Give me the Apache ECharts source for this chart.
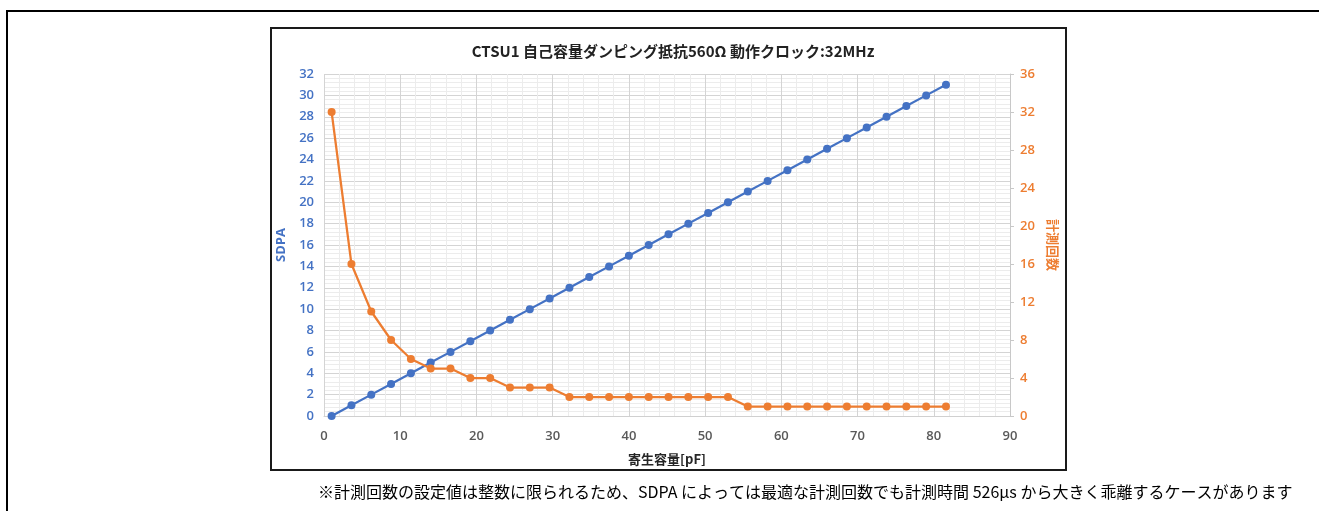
<!DOCTYPE html>
<html><head><meta charset="utf-8">
<script src="https://cdn.jsdelivr.net/npm/echarts@6/dist/echarts.min.js"></script>
<style>html,body{margin:0;padding:0;background:#fff;}#c{width:1319px;height:511px;}</style>
</head><body><div id="c"></div>
<script>
const titleText = 'CTSU1 自己容量ダンピング抵抗560Ω 動作クロック:32MHz';
const xTitle = '寄生容量[pF]';
const leftTitle = 'SDPA';
const rightTitle = '計測回数';
const noteText = '※計測回数の設定値は整数に限られるため、SDPA によっては最適な計測回数でも計測時間 526µs から大きく乖離するケースがあります';
const capacitance = [1.0, 3.6, 6.2, 8.8, 11.4, 14.0, 16.6, 19.2, 21.8, 24.4, 27.0, 29.6, 32.2, 34.8, 37.4, 40.0, 42.6, 45.2, 47.8, 50.4, 53.0, 55.6, 58.2, 60.8, 63.4, 66.0, 68.6, 71.2, 73.8, 76.4, 79.0, 81.6];
const sdpa = [0, 1, 2, 3, 4, 5, 6, 7, 8, 9, 10, 11, 12, 13, 14, 15, 16, 17, 18, 19, 20, 21, 22, 23, 24, 25, 26, 27, 28, 29, 30, 31];
const counts = [32, 16, 11, 8, 6, 5, 5, 4, 4, 3, 3, 3, 2, 2, 2, 2, 2, 2, 2, 2, 2, 1, 1, 1, 1, 1, 1, 1, 1, 1, 1, 1];

const BLUE = '#4472C4', ORANGE = '#ED7D31';
const FONT = '"Open Sans", "Noto Sans CJK JP", sans-serif';
const JP = '"Noto Sans CJK JP", sans-serif';

const chart = echarts.init(document.getElementById('c'), null, {renderer: 'canvas'});
chart.setOption({
  animation: false,
  backgroundColor: '#fff',
  title: {
    text: titleText, left: 668, top: 39, textAlign: 'center',
    textStyle: {fontFamily: JP, fontSize: 15, fontWeight: 'bold', color: '#222'}
  },
  grid: {left: 324, right: 309, top: 74, bottom: 95, containLabel: false},
  xAxis: {
    type: 'value', min: 0, max: 90, interval: 10,
    name: xTitle, nameLocation: 'middle', nameGap: 37,
    nameTextStyle: {fontFamily: JP, fontSize: 13, fontWeight: 'bold', color: '#262626'},
    axisLine: {show: true, lineStyle: {color: '#d0d0d0'}},
    axisTick: {show: false},
    axisLabel: {fontFamily: FONT, fontSize: 13, fontWeight: 600, color: '#595959', margin: 14},
    splitLine: {show: true, lineStyle: {color: '#d4d4d4', width: 1}},
    minorTick: {show: false, splitNumber: 5},
    minorSplitLine: {show: true, lineStyle: {color: '#ececec', width: 1}}
  },
  yAxis: [{
    type: 'value', min: 0, max: 32, interval: 2, position: 'left',
    name: leftTitle, nameLocation: 'middle', nameGap: 36, nameRotate: 90,
    nameTextStyle: {fontFamily: FONT, fontSize: 13, fontWeight: 'bold', color: BLUE},
    axisLine: {show: false}, axisTick: {show: false},
    axisLabel: {fontFamily: FONT, fontSize: 13, fontWeight: 600, color: BLUE, margin: 10},
    splitLine: {show: true, lineStyle: {color: '#d4d4d4', width: 1}},
    minorTick: {show: false, splitNumber: 5},
    minorSplitLine: {show: true, lineStyle: {color: '#ececec', width: 1}}
  }, {
    type: 'value', min: 0, max: 36, interval: 4, position: 'right',
    name: rightTitle, nameLocation: 'middle', nameGap: 36, nameRotate: -90,
    nameTextStyle: {fontFamily: JP, fontSize: 13, fontWeight: 'bold', color: ORANGE},
    axisLine: {show: true, lineStyle: {color: '#c8c8c8'}},
    axisTick: {show: true, length: 4, inside: false, lineStyle: {color: '#c8c8c8'}},
    axisLabel: {fontFamily: FONT, fontSize: 13, fontWeight: 600, color: ORANGE, margin: 10},
    splitLine: {show: false}
  }],
  series: [{
    name: leftTitle, type: 'line', yAxisIndex: 0,
    data: capacitance.map((x, i) => [x, sdpa[i]]),
    symbol: 'circle', symbolSize: 8,
    lineStyle: {color: BLUE, width: 2.25}, itemStyle: {color: BLUE}
  }, {
    name: rightTitle, type: 'line', yAxisIndex: 1,
    data: capacitance.map((x, i) => [x, counts[i]]),
    symbol: 'circle', symbolSize: 8,
    lineStyle: {color: ORANGE, width: 2.25}, itemStyle: {color: ORANGE}
  }],
  graphic: [
    {type: 'rect', silent: true, shape: {x: 7, y: 11, width: 1400, height: 600},
     style: {fill: 'none', stroke: '#000', lineWidth: 2}},
    {type: 'rect', silent: true, shape: {x: 271, y: 28, width: 795, height: 442},
     style: {fill: 'none', stroke: '#1a1a1a', lineWidth: 2}},
    {type: 'text', silent: true, left: 318, top: 484,
     style: {text: noteText, font: '16px "Noto Sans CJK JP", sans-serif', fill: '#000'}}
  ]
});
</script></body></html>
